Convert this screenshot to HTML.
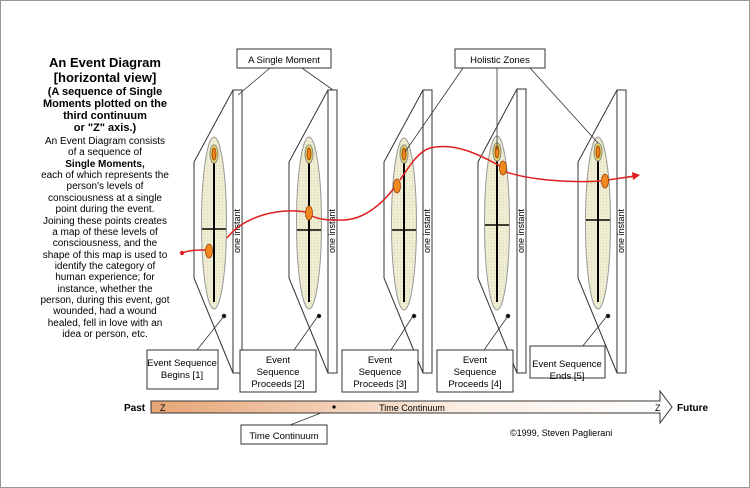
<!DOCTYPE html>
<html><head><meta charset="utf-8"><style>
body{margin:0;background:#fff}
svg{display:block;font-family:"Liberation Sans",Arial,sans-serif}
</style></head><body>
<svg width="750" height="488" viewBox="0 0 750 488" xmlns="http://www.w3.org/2000/svg">
<defs>
<linearGradient id="tg" x1="0" x2="1" y1="0" y2="0"><stop offset="0" stop-color="#e6a474"/><stop offset="0.6" stop-color="#fbeee4"/><stop offset="1" stop-color="#ffffff"/></linearGradient>
<pattern id="hatch" width="3" height="3" patternUnits="userSpaceOnUse"><rect width="3" height="3" fill="#efedd2"/><rect width="1" height="1" fill="#d8d6b4"/></pattern>
</defs>
<rect x="0.5" y="0.5" width="749" height="487" fill="#fff" stroke="#999"/>
<g fill="#000" text-anchor="middle">
<text x="105" y="67" font-size="13" font-weight="bold">An Event Diagram</text>
<text x="105" y="82" font-size="13" font-weight="bold">[horizontal view]</text>
<text x="105" y="95" font-size="11" font-weight="bold">(A sequence of Single</text>
<text x="105" y="107" font-size="11" font-weight="bold">Moments plotted on the</text>
<text x="105" y="119" font-size="11" font-weight="bold">third continuum</text>
<text x="105" y="131" font-size="11" font-weight="bold">or  "Z" axis.)</text>
<g font-size="10">
<text x="105" y="144">An Event Diagram consists</text>
<text x="105" y="155">of a sequence of</text>
<text x="105" y="167" font-weight="bold">Single Moments,</text>
<text x="105" y="178">each of which represents the</text>
<text x="105" y="189">person's levels of</text>
<text x="105" y="201">consciousness at a single</text>
<text x="105" y="212">point during the event.</text>
<text x="105" y="224">Joining these points creates</text>
<text x="105" y="235">a map of these levels of</text>
<text x="105" y="246">consciousness, and the</text>
<text x="105" y="258">shape of this map is used to</text>
<text x="105" y="269">identify the category of</text>
<text x="105" y="280">human experience; for</text>
<text x="105" y="292">instance, whether the</text>
<text x="105" y="303">person, during this event, got</text>
<text x="105" y="314">wounded, had a wound</text>
<text x="105" y="326">healed, fell in love with an</text>
<text x="105" y="337">idea or person, etc.</text>
</g></g>

<g id="panels" stroke="#333" stroke-width="1">
<g transform="translate(0,0)">
<polygon points="233,90 194,162 194,278 233,373" fill="none"/>
<ellipse cx="214" cy="223" rx="12.5" ry="86" fill="url(#hatch)" stroke="#999"/>
<line x1="214" y1="146" x2="214" y2="302" stroke="#000" stroke-width="2"/>
<line x1="202" y1="229" x2="226" y2="229" stroke="#000" stroke-width="1.5"/>
<ellipse cx="214" cy="154" rx="4" ry="9" fill="#e8e070" stroke="#888"/>
<ellipse cx="214" cy="154" rx="2" ry="6" fill="#f08020" stroke="#a05000"/>
<rect x="233" y="90" width="9" height="283" fill="#fff"/>
<circle cx="224" cy="316" r="1.8" fill="#000"/>
</g>
<g transform="translate(95,0)">
<polygon points="233,90 194,162 194,278 233,373" fill="none"/>
<ellipse cx="214" cy="223" rx="12.5" ry="86" fill="url(#hatch)" stroke="#999"/>
<line x1="214" y1="146" x2="214" y2="302" stroke="#000" stroke-width="2"/>
<line x1="202" y1="230" x2="226" y2="230" stroke="#000" stroke-width="1.5"/>
<ellipse cx="214" cy="154" rx="4" ry="9" fill="#e8e070" stroke="#888"/>
<ellipse cx="214" cy="154" rx="2" ry="6" fill="#f08020" stroke="#a05000"/>
<rect x="233" y="90" width="9" height="283" fill="#fff"/>
<circle cx="224" cy="316" r="1.8" fill="#000"/>
</g>
<g transform="translate(190,0)">
<polygon points="233,90 194,162 194,278 233,373" fill="none"/>
<ellipse cx="214" cy="224" rx="12.5" ry="86" fill="url(#hatch)" stroke="#999"/>
<line x1="214" y1="146" x2="214" y2="302" stroke="#000" stroke-width="2"/>
<line x1="202" y1="230" x2="226" y2="230" stroke="#000" stroke-width="1.5"/>
<ellipse cx="214" cy="154" rx="4" ry="9" fill="#e8e070" stroke="#888"/>
<ellipse cx="214" cy="154" rx="2" ry="6" fill="#f08020" stroke="#a05000"/>
<rect x="233" y="90" width="9" height="283" fill="#fff"/>
<circle cx="224" cy="316" r="1.8" fill="#000"/>
</g>
<g transform="translate(284,0)">
<polygon points="233,89 194,162 194,278 233,373" fill="none"/>
<ellipse cx="213" cy="223" rx="12.5" ry="87" fill="url(#hatch)" stroke="#999"/>
<line x1="213" y1="146" x2="213" y2="302" stroke="#000" stroke-width="2"/>
<line x1="201" y1="225" x2="225" y2="225" stroke="#000" stroke-width="1.5"/>
<ellipse cx="213" cy="152" rx="4" ry="9" fill="#e8e070" stroke="#888"/>
<ellipse cx="213" cy="152" rx="2" ry="6" fill="#f08020" stroke="#a05000"/>
<rect x="233" y="89" width="9" height="284" fill="#fff"/>
<circle cx="224" cy="316" r="1.8" fill="#000"/>
</g>
<g transform="translate(384,0)">
<polygon points="233,90 194,162 194,278 233,373" fill="none"/>
<ellipse cx="214" cy="223" rx="12.5" ry="86" fill="url(#hatch)" stroke="#999"/>
<line x1="214" y1="146" x2="214" y2="302" stroke="#000" stroke-width="2"/>
<line x1="202" y1="220" x2="226" y2="220" stroke="#000" stroke-width="1.5"/>
<ellipse cx="214" cy="152" rx="4" ry="9" fill="#e8e070" stroke="#888"/>
<ellipse cx="214" cy="152" rx="2" ry="6" fill="#f08020" stroke="#a05000"/>
<rect x="233" y="90" width="9" height="283" fill="#fff"/>
<circle cx="224" cy="316" r="1.8" fill="#000"/>
</g>
</g>
<g font-size="9" fill="#000">
<text transform="translate(240,231) rotate(-90)" text-anchor="middle">one instant</text>
<text transform="translate(335,231) rotate(-90)" text-anchor="middle">one instant</text>
<text transform="translate(430,231) rotate(-90)" text-anchor="middle">one instant</text>
<text transform="translate(524,231) rotate(-90)" text-anchor="middle">one instant</text>
<text transform="translate(624,231) rotate(-90)" text-anchor="middle">one instant</text>
</g>

<g fill="none" stroke="#e02020" stroke-width="1.5">
<path d="M182,253 C190,250 198,250 206,250"/>
<path d="M227,238 C245,215 280,208 306,212"/>
<path d="M312,216 C320,220 330,220 338,220 C365,222 385,200 395,187"/>
<path d="M400,180 C410,165 418,152 430,148 C455,142 480,155 500,166"/>
<path d="M506,172 C530,180 570,183 601,181"/>
<path d="M608,180 C620,178 630,177 634,176"/>
</g>
<circle cx="182" cy="253" r="2.2" fill="#e02020"/>
<polygon points="640,175 632,172 633,180" fill="#e02020"/>
<g stroke="#a04000" stroke-width="0.8" fill="#f08a20">
<ellipse cx="209" cy="251" rx="3.5" ry="7"/>
<ellipse cx="309" cy="213" rx="3.5" ry="7"/>
<ellipse cx="397" cy="186" rx="3.5" ry="7"/>
<ellipse cx="503" cy="168" rx="3.5" ry="7"/>
<ellipse cx="605" cy="181" rx="3.5" ry="7"/>
</g>

<g stroke="#333" stroke-width="0.8" fill="none">
<line x1="270" y1="68" x2="238" y2="95"/>
<line x1="302" y1="68" x2="333" y2="90"/>
<line x1="463" y1="68" x2="405" y2="152"/>
<line x1="497" y1="68" x2="497" y2="150"/>
<line x1="530" y1="68" x2="598" y2="143"/>
<line x1="224" y1="316" x2="197" y2="350"/>
<line x1="318" y1="316" x2="294" y2="350"/>
<line x1="413" y1="316" x2="391" y2="350"/>
<line x1="508" y1="316" x2="484" y2="350"/>
<line x1="607" y1="316" x2="582" y2="347"/>
<line x1="334" y1="408" x2="290" y2="425"/>
</g>
<g fill="#fff" stroke="#333" stroke-width="1">
<rect x="237" y="49" width="94" height="19"/>
<rect x="455" y="49" width="90" height="19"/>
<rect x="147" y="350" width="71" height="39"/>
<rect x="240" y="350" width="76" height="42"/>
<rect x="342" y="350" width="76" height="42"/>
<rect x="437" y="350" width="76" height="42"/>
<rect x="530" y="346" width="75" height="32"/>
<rect x="241" y="425" width="86" height="19"/>
</g>
<g font-size="9.5" fill="#000" text-anchor="middle">
<text x="284" y="63">A Single Moment</text>
<text x="500" y="63">Holistic Zones</text>
<text x="182" y="366">Event Sequence</text>
<text x="182" y="378">Begins [1]</text>
<text x="278" y="363">Event</text>
<text x="278" y="375">Sequence</text>
<text x="278" y="387">Proceeds [2]</text>
<text x="380" y="363">Event</text>
<text x="380" y="375">Sequence</text>
<text x="380" y="387">Proceeds [3]</text>
<text x="475" y="363">Event</text>
<text x="475" y="375">Sequence</text>
<text x="475" y="387">Proceeds [4]</text>
<text x="567" y="367">Event Sequence</text>
<text x="567" y="379">Ends [5]</text>
<text x="284" y="439">Time Continuum</text>
</g>

<polygon points="151,401 660,401 660,391 672,407 660,423 660,413 151,413" fill="url(#tg)" stroke="#333" stroke-width="1"/>
<circle cx="334" cy="407" r="1.6" fill="#000"/>
<g font-size="9" fill="#000">
<text x="160" y="411">Z</text>
<text x="655" y="411">Z</text>
<text x="412" y="411" text-anchor="middle">Time Continuum</text>
<text x="510" y="436">©1999,  Steven Paglierani</text>
</g>
<g font-size="10" font-weight="bold" fill="#000">
<text x="124" y="411">Past</text>
<text x="677" y="411">Future</text>
</g>
</svg>
</body></html>
